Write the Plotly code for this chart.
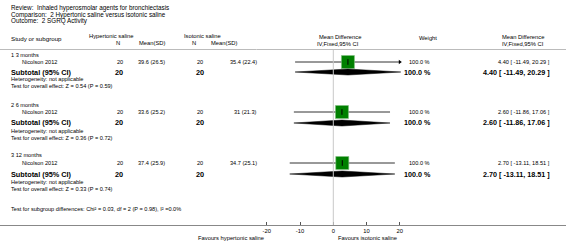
import plotly.graph_objects as go

# ---------------- data ----------------
subgroups = ["1 3 months", "2 6 months", "3 12 months"]
studies = ["Nicolson 2012", "Nicolson 2012", "Nicolson 2012"]
hyper_n = [20, 20, 20]
hyper_msd = ["39.6 (26.5)", "33.6 (25.2)", "37.4 (25.9)"]
iso_n = [20, 20, 20]
iso_msd = ["35.4 (22.4)", "31 (21.3)", "34.7 (25.1)"]
md = [4.40, 2.60, 2.70]
ci_lo = [-11.49, -11.86, -13.11]
ci_hi = [20.29, 17.06, 18.51]
weights = [100.0, 100.0, 100.0]
z_vals = [0.54, 0.36, 0.33]
p_vals = [0.59, 0.72, 0.74]
tick_vals = [-20, -10, 0, 10, 20]
axis_limit = 20

W, H = 566, 249
FONT = "Liberation Sans, Arial, sans-serif"

# layout rows (pixel rows from the top)
row_group = [55, 105, 155]
row_study = [62, 112, 163]
row_sub = [72, 123, 174]
row_het = [79, 130.5, 181.5]
row_test = [86, 137.5, 189]
AX_Y = 225

fig = go.Figure()
ann = []


def T(text, x, y, size=5.6, anchor="left", bold=False, color="#000"):
    if bold:
        text = "<b>" + text + "</b>"
    ann.append(dict(text=text, x=x / W, y=1 - y / H, xref="paper", yref="paper",
                    xanchor=anchor, yanchor="middle", showarrow=False,
                    font=dict(family=FONT, size=size, color=color)))


# titles
T("Review:  Inhaled hyperosmolar agents for bronchiectasis", 9, 8, 6.3)
T("Comparison:  2 Hypertonic saline versus isotonic saline", 9, 14.5, 6.3)
T("Outcome:  2 SGRQ Activity", 9, 21, 6.3)

# headers
T("Study or subgroup", 9, 38, 6.2)
T("Hypertonic saline", 111, 36, 5.8, "center")
T("N", 118, 43, 5.8, "center")
T("Mean(SD)", 167, 43, 5.8, "right")
T("Isotonic saline", 202, 36, 5.8, "center")
T("N", 194, 43, 5.8, "center")
T("Mean(SD)", 239, 43, 5.8, "right")
T("Mean Difference", 340, 37, 5.8, "center")
T("IV,Fixed,95% CI", 338, 44, 5.8, "center")
T("Weight", 428, 38, 5.8, "center")
T("Mean Difference", 523, 37, 5.8, "center")
T("IV,Fixed,95% CI", 523, 44, 5.8, "center")

for i in range(len(subgroups)):
    T(subgroups[i], 9, row_group[i])
    T(studies[i], 20, row_study[i])
    T(str(hyper_n[i]), 125, row_study[i], anchor="right")
    T(hyper_msd[i], 167, row_study[i], anchor="right")
    T(str(iso_n[i]), 205, row_study[i], anchor="right")
    T(iso_msd[i], 259, row_study[i], anchor="right")
    T(f"{weights[i]:.1f} %", 432, row_study[i], anchor="right")
    ci_txt = f"{md[i]:.2f} [ {ci_lo[i]:.2f}, {ci_hi[i]:.2f} ]"
    T(ci_txt, 552, row_study[i], anchor="right")

    T("Subtotal (95% CI)", 9, row_sub[i], 7.3, bold=True)
    T(str(hyper_n[i]), 125, row_sub[i], 7.3, "right", bold=True)
    T(str(iso_n[i]), 206, row_sub[i], 7.3, "right", bold=True)
    T(f"{weights[i]:.1f} %", 433, row_sub[i], 7.2, "right", bold=True)
    T(ci_txt, 552, row_sub[i], 7.2, "right", bold=True)
    T("Heterogeneity: not applicable", 9, row_het[i])
    T(f"Test for overall effect: Z = {z_vals[i]:.2f} (P = {p_vals[i]:.2f})", 9, row_test[i])

T("Test for subgroup differences: Chi² = 0.03, df = 2 (P = 0.98), I² =0.0%", 9, 209)
T("Favours hypertonic saline", 266, 238, 5.8, "right")
T("Favours isotonic saline", 336, 238, 5.8, "left")

# ---------------- marks ----------------
for i in range(len(subgroups)):
    y = row_study[i]
    hi = min(ci_hi[i], axis_limit)
    fig.add_trace(go.Scatter(x=[ci_lo[i], hi], y=[y, y], mode="lines",
                             line=dict(color="#333", width=1), hoverinfo="skip"))
    if ci_hi[i] > axis_limit:
        fig.add_trace(go.Scatter(x=[hi], y=[y], mode="markers",
                                 marker=dict(symbol="triangle-right", size=4, color="#000"),
                                 hoverinfo="skip"))
    fig.add_trace(go.Scatter(x=[md[i]], y=[y], mode="markers",
                             marker=dict(symbol="square", size=13, color="#008000",
                                         line=dict(color="#7fbf7f", width=0.6)),
                             hoverinfo="skip"))
    fig.add_trace(go.Scatter(x=[md[i]], y=[y], mode="markers",
                             marker=dict(symbol="line-ns", size=4,
                                         line=dict(color="#000", width=1)),
                             hoverinfo="skip"))
    ys = row_sub[i]
    fig.add_trace(go.Scatter(x=[ci_lo[i], md[i], ci_hi[i], md[i], ci_lo[i]],
                             y=[ys, ys - 3, ys, ys + 3, ys], mode="lines",
                             fill="toself", fillcolor="#000",
                             line=dict(color="#000", width=0.5), hoverinfo="skip"))

shapes = [
    dict(type="line", xref="paper", yref="paper", x0=0, x1=1,
         y0=1 - 49.5 / H, y1=1 - 49.5 / H, line=dict(color="#bbb", width=1)),
    dict(type="line", xref="x", yref="y", x0=0, x1=0, y0=50, y1=AX_Y,
         line=dict(color="#c8c8c8", width=1)),
]

px0, pscale = 333.3, 133.0 / 40.0
fig.update_layout(
    width=W, height=H, margin=dict(l=0, r=0, t=0, b=0),
    paper_bgcolor="white", plot_bgcolor="white", showlegend=False,
    annotations=ann, shapes=shapes,
    xaxis=dict(range=[-px0 / pscale, (W - px0) / pscale], domain=[0, 1],
               tickvals=tick_vals, ticktext=[str(t) for t in tick_vals],
               ticks="inside", ticklen=3, tickcolor="#555", tickwidth=1,
               showline=True, linecolor="#888", linewidth=1,
               showgrid=False, zeroline=False,
               tickfont=dict(family=FONT, size=5.8, color="#000"),
               fixedrange=True),
    yaxis=dict(range=[AX_Y, 0], domain=[1 - AX_Y / H, 1], visible=False,
               showgrid=False, zeroline=False, fixedrange=True),
)

fig.write_html("out.html", config={"displayModeBar": False},
               post_script="document.body.style.margin='0';document.body.style.overflow='hidden';")
